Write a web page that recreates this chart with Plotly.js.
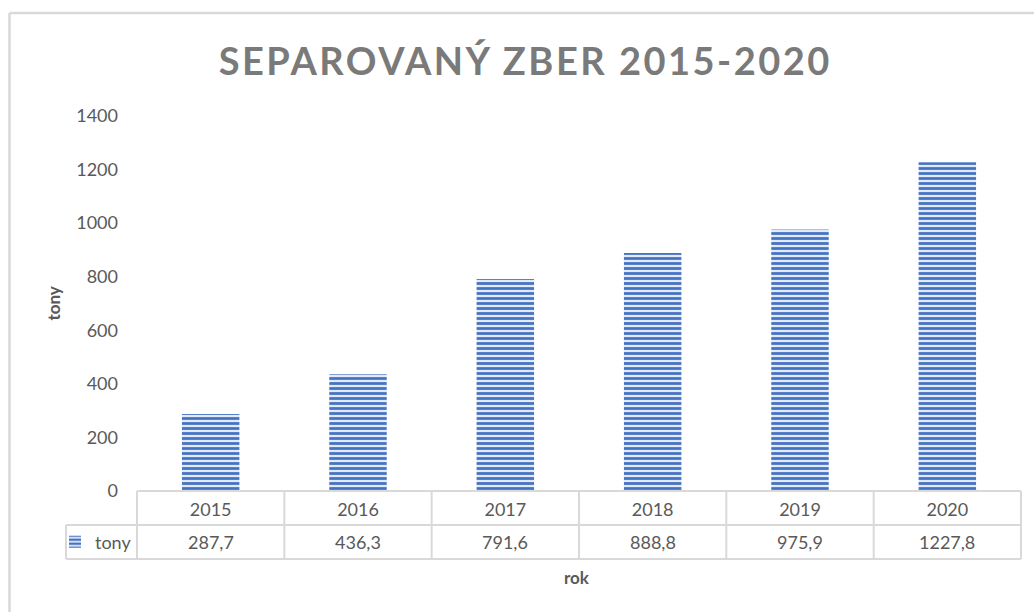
<!DOCTYPE html>
<html>
<head>
<meta charset="utf-8">
<script src="https://cdn.plot.ly/plotly-3.0.1.min.js"></script>
<style>
html,body{margin:0;padding:0;background:#fff;}
#chart{width:1034px;height:612px;}
</style>
</head>
<body>
<div id="chart"></div>
<script>
// ---- data ----
const years = ['2015', '2016', '2017', '2018', '2019', '2020'];
const tony = [287.7, 436.3, 791.6, 888.8, 975.9, 1227.8];
const seriesName = 'tony';
const chartTitle = 'SEPAROVANÝ ZBER 2015-2020';
const yTitle = 'tony';
const xTitle = 'rok';
const yTicks = [0, 200, 400, 600, 800, 1000, 1200, 1400];

// ---- layout helpers (pixel -> paper) ----
const W = 1034, H = 612;
const mL = 137, mR = 13, mT = 116, mB = 121;
const pw = W - mL - mR, ph = H - mT - mB;
const px = x => (x - mL) / pw;
const py = y => (H - mB - y) / ph;

const lineCol = '#d9d9d9';
const shapes = [];
function seg(x0, y0, x1, y1, w) {
  shapes.push({type: 'line', xref: 'paper', yref: 'paper', x0: px(x0), y0: py(y0), x1: px(x1), y1: py(y1),
    line: {color: lineCol, width: w || 2}});
}
// chart frame
seg(9.5, 13, 9.5, 612, 2.5);
seg(9.5, 13, 1034, 13, 2.5);
// data table grid
const rowTop = 491, rowMid = 525, rowBot = 559, legLeft = 66;
seg(mL, rowTop, W - mR, rowTop);
seg(legLeft, rowMid, W - mR, rowMid);
seg(legLeft, rowBot, W - mR, rowBot);
seg(legLeft, rowMid, legLeft, rowBot);
for (let i = 0; i <= years.length; i++) {
  const xp = i / years.length;
  shapes.push({type: 'line', xref: 'paper', yref: 'paper', x0: xp, x1: xp, y0: py(rowTop), y1: py(rowBot),
    line: {color: lineCol, width: 2}});
}

// value row of the data table, centred on each category
const annotations = tony.map((v, i) => ({
  x: (i + 0.5) / years.length, xref: 'paper', y: py((rowMid + rowBot) / 2), yref: 'paper',
  text: v.toFixed(1).replace('.', ','), showarrow: false, xanchor: 'center', yanchor: 'middle',
  font: {family: 'Lato, sans-serif', size: 18, color: '#595959'}
}));
annotations.push({
  x: px(53), xref: 'paper', y: 0.5, yref: 'paper', text: '<b>' + yTitle + '</b>', textangle: -90,
  showarrow: false, xanchor: 'center', yanchor: 'middle',
  font: {family: 'Lato, sans-serif', size: 17, color: '#595959'}
});
annotations.push({
  x: px(577), xref: 'paper', y: py(577), yref: 'paper', text: '<b>' + xTitle + '</b>',
  showarrow: false, xanchor: 'center', yanchor: 'middle',
  font: {family: 'Lato, sans-serif', size: 17, color: '#595959'}
});

const trace = {
  type: 'bar', x: years, y: tony, name: seriesName,
  marker: {
    color: '#e3eaf7',
    line: {width: 0},
    pattern: {shape: '-', fgcolor: '#4472C4', bgcolor: '#e3eaf7', size: 5, solidity: 0.55, fillmode: 'replace'}
  },
  width: 0.39,
  hoverinfo: 'x+y'
};

const layout = {
  width: W, height: H,
  margin: {l: mL, r: mR, t: mT, b: mB, pad: 0},
  paper_bgcolor: '#ffffff', plot_bgcolor: '#ffffff',
  title: {
    text: '<b>' + chartTitle + '</b>', xref: 'container', x: 0.508, xanchor: 'center',
    yref: 'container', y: 1 - 62 / H, yanchor: 'middle',
    font: {family: 'Lato, sans-serif', size: 38, color: '#7a7a7a'}
  },
  xaxis: {
    type: 'category', range: [-0.5, years.length - 0.5], showgrid: false, zeroline: false, showline: false,
    ticks: '', ticklabelstandoff: 6,
    tickfont: {family: 'Lato, sans-serif', size: 18, color: '#595959'}
  },
  yaxis: {
    range: [0, 1400], tickvals: yTicks, showgrid: false, zeroline: false, showline: false,
    ticks: '', ticklabelstandoff: 18,
    tickfont: {family: 'Lato, sans-serif', size: 18, color: '#595959'}
  },
  showlegend: true,
  legend: {
    x: px(55), xanchor: 'left', y: py((rowMid + rowBot) / 2), yanchor: 'middle',
    bgcolor: 'rgba(0,0,0,0)', borderwidth: 0,
    font: {family: 'Lato, sans-serif', size: 18, color: '#595959'},
    itemwidth: 30
  },
  shapes: shapes,
  annotations: annotations
};

Plotly.newPlot('chart', [trace], layout, {displayModeBar: false, staticPlot: true}).then(() => {
  const t = document.querySelector('.gtitle');
  if (t) t.style.letterSpacing = '2.5px';
});
</script>
</body>
</html>
